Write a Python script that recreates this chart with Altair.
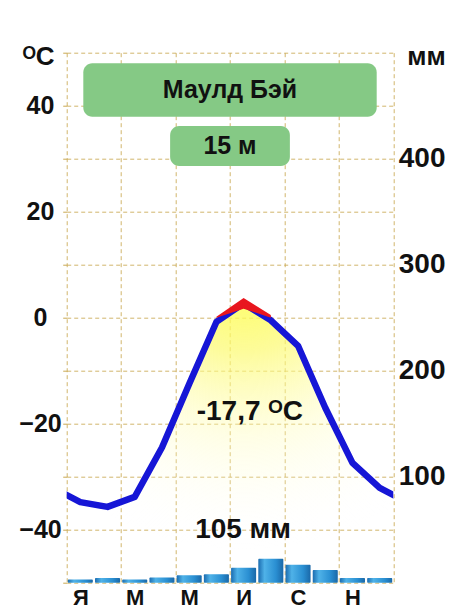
import altair as alt
import pandas as pd

# ---- data ----
months_short = ["Я", "Ф", "М", "А", "М", "И", "И", "А", "С", "О", "Н", "Д"]
temps = [-34.8, -35.7, -33.8, -24.5, -12.5, -0.8, 2.7, -0.5, -5.3, -17.0, -27.4, -32.1]
precip = [3, 4.5, 3, 5, 7, 8, 14, 22.5, 17, 12, 4.5, 4.5]
warm_months = [6, 7, 8]
station = "Маулд Бэй"
elevation = "15 м"
annual_temp = "-17,7 ᴼC"
annual_precip = "105 мм"

# ---- tables ----
month_nums = list(range(1, 13))
df = pd.DataFrame({"month": month_nums, "t": temps, "p": precip})
# cyclic year: December before January, January after December (clipped away)
line_df = pd.DataFrame({
    "month": [0] + month_nums + [13],
    "t": [temps[-1]] + temps + [temps[0]],
})
box_df = pd.DataFrame({
    "x": [1.11, 4.3], "x2": [11.89, 8.7],
    "y": [48.0, 36.15], "y2": [37.9, 28.6],
})
label_df = pd.DataFrame({"label": [station, elevation], "x": [6.5, 6.5], "y": [43.0, 32.4]})
summary_df = pd.DataFrame({"label": [annual_temp, annual_precip], "x": [7.23, 6.98], "y": [-17.7, -40.0]})

W, H = 326.6, 530
FONT = "Liberation Sans"
TXT = "#111111"
GRID = "#c9a850"

xscale = alt.Scale(domain=[0.5, 12.5], nice=False, zero=False)
tscale = alt.Scale(domain=[-50, 50], nice=False, zero=False)
pscale = alt.Scale(domain=[0, 500], nice=False)

month_js = "[" + ",".join("'" + m + "'" for m in months_short) + "]"

x_axis = alt.Axis(
    values=[i + 0.5 for i in range(13)],
    grid=True, gridDash=[4, 3], gridColor=GRID, gridWidth=1, gridOpacity=0.85,
    ticks=False, domain=False, title=None,
    labelExpr="(datum.value % 2 == 0.5 && datum.value < 12) ? " + month_js + "[floor(datum.value)] : ''",
    labelOffset=W / 24, labelFlush=False, labelOverlap=False,
    labelFont=FONT, labelFontSize=22, labelFontWeight="bold", labelColor=TXT, labelPadding=5,
)
t_axis = alt.Axis(
    values=list(range(-50, 51, 10)),
    grid=True, gridDash=[4, 3], gridColor=GRID, gridWidth=1, gridOpacity=0.85,
    ticks=True, tickSize=4, tickColor=GRID, domain=False,
    labelExpr="(abs(datum.value) <= 40 && datum.value % 20 == 0) ? datum.label : ''",
    labelAlign="center", labelPadding=22.7, labelOverlap=False,
    labelFont=FONT, labelFontSize=25, labelFontWeight="bold", labelColor=TXT,
    title="ᴼC", titleAngle=0, titleX=-28.7, titleY=12.3, titleAlign="center",
    titleBaseline="alphabetic", titleFont=FONT, titleFontSize=26, titleFontWeight="bold",
    titleColor=TXT,
)
p_axis = alt.Axis(
    orient="right", values=[100, 200, 300, 400],
    grid=False, ticks=False, domain=False,
    labelAlign="left", labelPadding=5, labelOverlap=False,
    labelFont=FONT, labelFontSize=28, labelFontWeight="bold", labelColor=TXT,
    title="мм", titleAngle=0, titleX=32.7, titleY=12.3, titleAlign="center",
    titleBaseline="alphabetic", titleFont=FONT, titleFontSize=26, titleFontWeight="bold",
    titleColor=TXT,
)

yellow = alt.RadialGradient(
    gradient="radial",
    stops=[
        alt.GradientStop(color="rgba(255,255,60,0.9)", offset=0),
        alt.GradientStop(color="rgba(252,250,110,0.7)", offset=0.3),
        alt.GradientStop(color="rgba(255,253,180,0.35)", offset=0.6),
        alt.GradientStop(color="rgba(255,255,255,0)", offset=1),
    ],
    x1=0.54, y1=0.0, r1=0, x2=0.54, y2=0.0, r2=0.8,
)
bar_fill = alt.LinearGradient(
    gradient="linear",
    stops=[
        alt.GradientStop(color="#1b6cb0", offset=0),
        alt.GradientStop(color="#4fb2e8", offset=0.25),
        alt.GradientStop(color="#2a8fd2", offset=0.7),
        alt.GradientStop(color="#1a68a8", offset=1),
    ],
    x1=0, x2=1, y1=0, y2=0,
)

base_line = alt.Chart(line_df)

area = base_line.mark_area(clip=True, fill=yellow, stroke=None).encode(
    x=alt.X("month:Q", scale=xscale, axis=x_axis),
    y=alt.Y("t:Q", scale=tscale, axis=t_axis),
    y2=alt.Y2(datum=-50),
)

blue = base_line.mark_line(clip=True, color="#1616d6", strokeWidth=6.5, strokeJoin="round").encode(
    x=alt.X("month:Q", scale=xscale),
    y=alt.Y("t:Q", scale=tscale),
)

red = base_line.transform_filter(
    alt.FieldOneOfPredicate(field="month", oneOf=warm_months)
).transform_calculate(
    top="datum.t + 1.0", bot="max(datum.t - 1.0, 0)"
).mark_area(color="#e8161e").encode(
    x=alt.X("month:Q", scale=xscale),
    y=alt.Y("top:Q", scale=tscale),
    y2="bot:Q",
)

boxes = alt.Chart(box_df).mark_rect(color="#85c985", cornerRadius=9).encode(
    x=alt.X("x:Q", scale=xscale),
    x2="x2:Q",
    y=alt.Y("y:Q", scale=tscale),
    y2="y2:Q",
)
box_text = alt.Chart(label_df).mark_text(
    font=FONT, fontWeight="bold", fontSize=25, color=TXT, align="center", baseline="middle"
).encode(
    x=alt.X("x:Q", scale=xscale),
    y=alt.Y("y:Q", scale=tscale),
    text="label:N",
)
summary_text = alt.Chart(summary_df).mark_text(
    font=FONT, fontWeight="bold", fontSize=28, color=TXT, align="center", baseline="middle"
).encode(
    x=alt.X("x:Q", scale=xscale),
    y=alt.Y("y:Q", scale=tscale),
    text="label:N",
)

temp_layer = alt.layer(area, blue, boxes, box_text, summary_text, red)

bars = alt.Chart(df).transform_calculate(
    x0="datum.month - 0.46", x1="datum.month + 0.46"
).mark_bar(fill=bar_fill, cornerRadius=1).encode(
    x=alt.X("x0:Q", scale=xscale),
    x2="x1:Q",
    y=alt.Y("p:Q", scale=pscale, axis=p_axis),
    y2=alt.Y2(datum=0),
)

chart = alt.layer(temp_layer, bars).resolve_scale(y="independent").properties(
    width=W, height=H,
    padding={"left": 58.7, "top": 44.7, "right": 69.7, "bottom": 30},
    autosize=alt.AutoSizeParams(type="none"),
    background="white",
).configure_view(stroke=None)

chart.save("out.html", embed_options={"renderer": "svg", "actions": False})
